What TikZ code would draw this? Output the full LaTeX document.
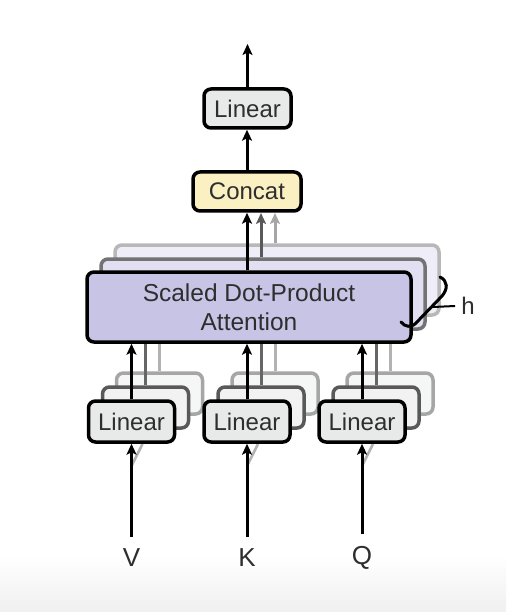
\documentclass[tikz,border=0pt]{standalone}
\usepackage{fontspec}
\setmainfont{Liberation Sans}
\usetikzlibrary{arrows.meta}
\definecolor{linfill}{HTML}{E7EAE8}
\definecolor{catfill}{HTML}{FBF0C2}
\definecolor{attfill}{HTML}{C8C4E6}
\definecolor{txt}{HTML}{2E2E2E}
\begin{document}
\begin{tikzpicture}[x=1pt,y=-1pt,
  box/.style={draw=black, line width=3.5pt, rounded corners=7pt, inner sep=0pt, text=txt, font=\fontsize{24}{27}\selectfont},
  linbox/.style={box, fill=linfill, minimum width=86pt, minimum height=41pt},
  linb1/.style={linbox, draw=black!65, fill=linfill!60},
  linb2/.style={linbox, draw=black!35, fill=linfill!40},
  attbox/.style={box, fill=attfill, minimum width=324pt, minimum height=70pt, align=center, font=\fontsize{24.5}{29}\selectfont},
  attb1/.style={attbox, draw=black!55, fill=attfill!55},
  attb2/.style={attbox, draw=black!28, fill=attfill!30},
  arr/.style={line width=3pt, -{Stealth[length=11pt,width=10pt,inset=2.5pt]}},
  garr1/.style={arr, draw=black!65},
  garr2/.style={arr, draw=black!35},
  gl1/.style={line width=3pt, draw=black!60},
  gl2/.style={line width=3pt, draw=black!30},
  lbl/.style={text=txt, font=\fontsize{26}{30}\selectfont, inner sep=0pt},
]
\useasboundingbox (0,0) rectangle (506,612);
\fill[white] (0,0) rectangle (506,612);
\shade[top color=white, bottom color=black!6] (0,555) rectangle (506,612);

% back layers of attention
\node[attb2] (attB2) at (277,280) {};
\node[attb1] (attB1) at (263,294) {};

% back layers of linear boxes
\foreach \n/\x in {V/131.5, K/247, Q/362}{
  \node[linb2] (lin\n B2) at (\x+28,393.5) {};
  \node[linb1] (lin\n B1) at (\x+14,407.5) {};
}

% ghost connectors
\draw[garr2] ([xshift=28pt]attB2.north -| 247,0) -- (275,213);
\draw[garr1] ([xshift=14pt]attB1.north -| 247,0) -- (261,213);

% main nodes
\node[box, fill=linfill, minimum width=87pt, minimum height=39pt] (linTop) at (247.5,108.5) {Linear};
\node[box, fill=catfill, minimum width=108pt, minimum height=39pt] (concat) at (247,191.5) {Concat};
\node[attbox] (att) at (249,307) {Scaled Dot-Product\\Attention};

\foreach \n/\x in {V/131.5, K/247, Q/362}{
  \draw[gl2] (lin\n B2.north) -- (lin\n B2.north |- att.south);
  \draw[gl1] (lin\n B1.north) -- (lin\n B1.north |- att.south);
  \draw[line width=2.5pt, draw=black!30] (\x,466) -- (\x+11,444);
  \node[linbox] (lin\n) at (\x,421.5) {Linear};
  \node[lbl] (in\n) at (\x,558) {\n};
  \draw[arr] (in\n.north) ++(0,-12) -- (lin\n.south);
  \draw[arr] (lin\n.north) -- (lin\n.north |- att.south);
}

% main connectors
\coordinate (out) at (247.5,44);
\draw[arr] (linTop.north) -- (out);
\draw[arr] (concat.north) -- (concat.north |- linTop.south);
\draw[arr] (att.north -| concat.south) -- (concat.south);

% h bracket
\draw[line width=3pt, line cap=round]
  (440,277) .. controls (448,281) and (448,289) .. (442,296)
  -- (416,323) .. controls (411,328) and (405,327) .. (401,322);
\node[lbl, font=\fontsize{24}{28}\selectfont] (h) at (468,306) {h};
\draw[line width=2pt] (433,307) -- ([xshift=-6pt]h.west);
\end{tikzpicture}
\end{document}
